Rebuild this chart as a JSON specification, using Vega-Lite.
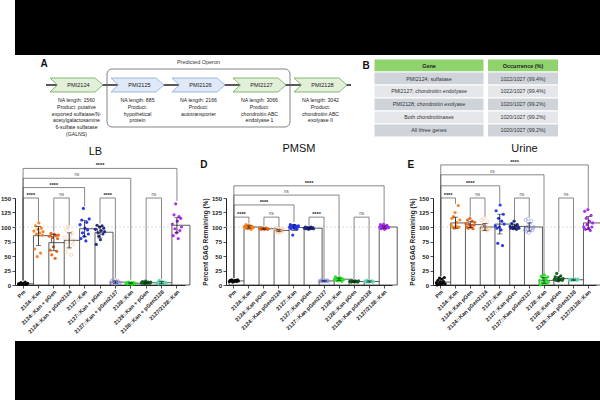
{
"$schema":"https://vega.github.io/schema/vega-lite/v6.json",
"background":"white",
"padding":0,
"config":{"font":"Liberation Sans","view":{"stroke":null},
"axis":{"domainColor":"#222","tickColor":"#222","labelColor":"#222","titleColor":"#222","grid":false,"domainWidth":1,"tickWidth":0.8,"labelFont":"Liberation Sans","titleFont":"Liberation Sans","labelOverlap":false},
"title":{"font":"Liberation Sans","fontWeight":"normal","color":"#111"}},
"datasets":{
"genes":[
{"i":1,"gene":"PMI2124","studied":"yes","desc":["NA length: 1560","Product: putative","exported sulfatase/N-","acetylgalactosamine","6-sulfate sulfatase","(GALNS)"]},
{"i":2,"gene":"PMI2125","studied":"no","desc":["NA length: 885","Product:","hypothetical","protein"]},
{"i":3,"gene":"PMI2126","studied":"no","desc":["NA length: 2166","Product:","autotransporter"]},
{"i":4,"gene":"PMI2127","studied":"yes","desc":["NA length: 3066","Product:","chondroitin ABC","endolyase 1"]},
{"i":5,"gene":"PMI2128","studied":"yes","desc":["NA length: 3042","Product:","chondroitin ABC","exolyase II"]}],
"table":[
{"row":0,"gene":"Gene","occ":"Occurrence (%)"},
{"row":1,"gene":"PMI2124; sulfatase","occ":"1022/1027 (99.4%)"},
{"row":2,"gene":"PMI2127; chondroitin endolyase","occ":"1022/1027 (99.4%)"},
{"row":3,"gene":"PMI2128; chondroitin exolyase","occ":"1020/1027 (99.2%)"},
{"row":4,"gene":"Both chondroitinases","occ":"1020/1027 (99.2%)"},
{"row":5,"gene":"All three genes","occ":"1020/1027 (99.2%)"}],
"brk":[
{"p":"LB","a":0,"b":1,"h":150,"la":8,"lb":110,"lab":"****"},
{"p":"LB","a":2,"b":3,"h":150,"la":92,"lb":103,"lab":"ns"},
{"p":"LB","a":0,"b":4,"h":168,"la":8,"lb":136,"lab":"****"},
{"p":"LB","a":5,"b":6,"h":150,"la":106,"lb":12,"lab":"****"},
{"p":"LB","a":0,"b":7,"h":184,"la":8,"lb":9,"lab":"ns"},
{"p":"LB","a":8,"b":9,"h":150,"la":10,"lb":10,"lab":"ns"},
{"p":"LB","a":0,"b":10,"h":201,"la":8,"lb":145,"lab":"****"},
{"p":"PMSM","a":0,"b":1,"h":117,"la":12,"lb":106,"lab":"****"},
{"p":"PMSM","a":2,"b":3,"h":117,"la":101,"lb":100,"lab":"ns"},
{"p":"PMSM","a":0,"b":4,"h":138,"la":12,"lb":108,"lab":"****"},
{"p":"PMSM","a":5,"b":6,"h":117,"la":102,"lb":11,"lab":"****"},
{"p":"PMSM","a":0,"b":7,"h":155,"la":12,"lb":16,"lab":"ns"},
{"p":"PMSM","a":8,"b":9,"h":117,"la":10,"lb":10,"lab":"ns"},
{"p":"PMSM","a":0,"b":10,"h":171,"la":12,"lb":108,"lab":"****"},
{"p":"Urine","a":0,"b":1,"h":150,"la":15,"lb":140,"lab":"****"},
{"p":"Urine","a":2,"b":3,"h":150,"la":118,"lb":118,"lab":"ns"},
{"p":"Urine","a":0,"b":4,"h":171,"la":15,"lb":141,"lab":"****"},
{"p":"Urine","a":5,"b":6,"h":150,"la":112,"lb":117,"lab":"ns"},
{"p":"Urine","a":0,"b":7,"h":190,"la":15,"lb":19,"lab":"ns"},
{"p":"Urine","a":8,"b":9,"h":150,"la":22,"lb":12,"lab":"ns"},
{"p":"Urine","a":0,"b":10,"h":207,"la":15,"lb":133,"lab":"****"}],
"lbBars":[
{"g":"Pm","m":2,"lo":1,"hi":3},{"g":"2124::Kan","m":85,"lo":68,"hi":101},{"g":"2124::Kan + pGen","m":73,"lo":59,"hi":87},{"g":"2124::Kan + pGen2124","m":77,"lo":64,"hi":90},{"g":"2127::Kan","m":97,"lo":83,"hi":111},{"g":"2127::Kan + pGen","m":91,"lo":81,"hi":101},{"g":"2127::Kan + pGen2127","m":5,"lo":3,"hi":7},{"g":"2128::Kan","m":3,"lo":2,"hi":4},{"g":"2128::Kan + pGen","m":4,"lo":3,"hi":5},{"g":"2128::Kan + pGen2128","m":4,"lo":2,"hi":6},{"g":"2127/2128::Kan","m":103,"lo":90,"hi":116}],
"pmBars":[
{"g":"Pm","m":7,"lo":6,"hi":8},{"g":"2124::Kan","m":100,"lo":98,"hi":102},{"g":"2124::Kan pGen","m":97,"lo":96,"hi":98},{"g":"2124::Kan pGen2124","m":94,"lo":92,"hi":96},{"g":"2127::Kan","m":99,"lo":94,"hi":104},{"g":"2127::Kan pGen","m":98,"lo":97,"hi":99},{"g":"2127::Kan pGen2127","m":7,"lo":6,"hi":8},{"g":"2128::Kan","m":10,"lo":8,"hi":12},{"g":"2128::Kan pGen","m":6,"lo":5,"hi":7},{"g":"2128::Kan pGen2128","m":6,"lo":5,"hi":7},{"g":"2127/2128::Kan","m":100,"lo":98,"hi":102}],
"urBars":[
{"g":"Pm","m":5,"lo":1,"hi":9},{"g":"2124::Kan","m":107,"lo":98,"hi":117},{"g":"2124::Kan pGen","m":104,"lo":99,"hi":109},{"g":"2124::Kan pGen2124","m":100,"lo":94,"hi":106},{"g":"2127::Kan","m":105,"lo":88,"hi":122},{"g":"2127::Kan pGen","m":101,"lo":97,"hi":105},{"g":"2127::Kan pGen2127","m":100,"lo":93,"hi":107},{"g":"2128::Kan","m":8,"lo":3,"hi":13},{"g":"2128::Kan pGen","m":11,"lo":7,"hi":15},{"g":"2128::Kan pGen2128","m":9,"lo":8,"hi":10},{"g":"2127/2128::Kan","m":107,"lo":96,"hi":118}],
"lbPts":[
{"g":"Pm","r":1,"v":2},{"g":"Pm","r":2,"v":1},{"g":"Pm","r":3,"v":3},{"g":"Pm","r":4,"v":4},{"g":"Pm","r":5,"v":2},{"g":"Pm","r":6,"v":1},{"g":"Pm","r":7,"v":3},{"g":"Pm","r":8,"v":2},{"g":"Pm","r":9,"v":5},{"g":"Pm","r":10,"v":1},{"g":"Pm","r":11,"v":2},{"g":"Pm","r":12,"v":3},
{"g":"2124::Kan","r":1,"v":93},{"g":"2124::Kan","r":2,"v":62},{"g":"2124::Kan","r":3,"v":102},{"g":"2124::Kan","r":4,"v":88},{"g":"2124::Kan","r":5,"v":49},{"g":"2124::Kan","r":6,"v":96},{"g":"2124::Kan","r":7,"v":107},{"g":"2124::Kan","r":8,"v":90},{"g":"2124::Kan","r":9,"v":55},{"g":"2124::Kan","r":10,"v":98},{"g":"2124::Kan","r":11,"v":86},{"g":"2124::Kan","r":12,"v":92},
{"g":"2124::Kan + pGen","r":1,"v":84},{"g":"2124::Kan + pGen","r":2,"v":60},{"g":"2124::Kan + pGen","r":3,"v":89},{"g":"2124::Kan + pGen","r":4,"v":52},{"g":"2124::Kan + pGen","r":5,"v":82},{"g":"2124::Kan + pGen","r":6,"v":66},{"g":"2124::Kan + pGen","r":7,"v":88},{"g":"2124::Kan + pGen","r":8,"v":46},{"g":"2124::Kan + pGen","r":9,"v":85},{"g":"2124::Kan + pGen","r":10,"v":58},{"g":"2124::Kan + pGen","r":11,"v":80},{"g":"2124::Kan + pGen","r":12,"v":86},
{"g":"2124::Kan + pGen2124","r":1,"v":82},{"g":"2124::Kan + pGen2124","r":2,"v":57},{"g":"2124::Kan + pGen2124","r":3,"v":95},{"g":"2124::Kan + pGen2124","r":4,"v":74},{"g":"2124::Kan + pGen2124","r":5,"v":100},{"g":"2124::Kan + pGen2124","r":6,"v":64},{"g":"2124::Kan + pGen2124","r":7,"v":79},{"g":"2124::Kan + pGen2124","r":8,"v":86},{"g":"2124::Kan + pGen2124","r":9,"v":52},{"g":"2124::Kan + pGen2124","r":10,"v":90},{"g":"2124::Kan + pGen2124","r":11,"v":70},{"g":"2124::Kan + pGen2124","r":12,"v":77},
{"g":"2127::Kan","r":1,"v":104},{"g":"2127::Kan","r":2,"v":80},{"g":"2127::Kan","r":3,"v":112},{"g":"2127::Kan","r":4,"v":90},{"g":"2127::Kan","r":5,"v":132},{"g":"2127::Kan","r":6,"v":84},{"g":"2127::Kan","r":7,"v":98},{"g":"2127::Kan","r":8,"v":76},{"g":"2127::Kan","r":9,"v":108},{"g":"2127::Kan","r":10,"v":95},{"g":"2127::Kan","r":11,"v":88},{"g":"2127::Kan","r":12,"v":114},
{"g":"2127::Kan + pGen","r":1,"v":96},{"g":"2127::Kan + pGen","r":2,"v":70},{"g":"2127::Kan + pGen","r":3,"v":103},{"g":"2127::Kan + pGen","r":4,"v":90},{"g":"2127::Kan + pGen","r":5,"v":84},{"g":"2127::Kan + pGen","r":6,"v":100},{"g":"2127::Kan + pGen","r":7,"v":78},{"g":"2127::Kan + pGen","r":8,"v":94},{"g":"2127::Kan + pGen","r":9,"v":102},{"g":"2127::Kan + pGen","r":10,"v":88},{"g":"2127::Kan + pGen","r":11,"v":98},{"g":"2127::Kan + pGen","r":12,"v":92},
{"g":"2127::Kan + pGen2127","r":1,"v":4},{"g":"2127::Kan + pGen2127","r":2,"v":7},{"g":"2127::Kan + pGen2127","r":3,"v":3},{"g":"2127::Kan + pGen2127","r":4,"v":9},{"g":"2127::Kan + pGen2127","r":5,"v":5},{"g":"2127::Kan + pGen2127","r":6,"v":2},{"g":"2127::Kan + pGen2127","r":7,"v":6},{"g":"2127::Kan + pGen2127","r":8,"v":4},{"g":"2127::Kan + pGen2127","r":9,"v":8},{"g":"2127::Kan + pGen2127","r":10,"v":5},{"g":"2127::Kan + pGen2127","r":11,"v":3},{"g":"2127::Kan + pGen2127","r":12,"v":4},
{"g":"2128::Kan","r":1,"v":3},{"g":"2128::Kan","r":2,"v":2},{"g":"2128::Kan","r":3,"v":4},{"g":"2128::Kan","r":4,"v":5},{"g":"2128::Kan","r":5,"v":3},{"g":"2128::Kan","r":6,"v":2},{"g":"2128::Kan","r":7,"v":4},{"g":"2128::Kan","r":8,"v":1},{"g":"2128::Kan","r":9,"v":3},{"g":"2128::Kan","r":10,"v":4},{"g":"2128::Kan","r":11,"v":2},{"g":"2128::Kan","r":12,"v":3},
{"g":"2128::Kan + pGen","r":1,"v":4},{"g":"2128::Kan + pGen","r":2,"v":6},{"g":"2128::Kan + pGen","r":3,"v":3},{"g":"2128::Kan + pGen","r":4,"v":5},{"g":"2128::Kan + pGen","r":5,"v":2},{"g":"2128::Kan + pGen","r":6,"v":7},{"g":"2128::Kan + pGen","r":7,"v":4},{"g":"2128::Kan + pGen","r":8,"v":3},{"g":"2128::Kan + pGen","r":9,"v":5},{"g":"2128::Kan + pGen","r":10,"v":4},{"g":"2128::Kan + pGen","r":11,"v":3},{"g":"2128::Kan + pGen","r":12,"v":5},
{"g":"2128::Kan + pGen2128","r":1,"v":3},{"g":"2128::Kan + pGen2128","r":2,"v":5},{"g":"2128::Kan + pGen2128","r":3,"v":2},{"g":"2128::Kan + pGen2128","r":4,"v":8},{"g":"2128::Kan + pGen2128","r":5,"v":4},{"g":"2128::Kan + pGen2128","r":6,"v":3},{"g":"2128::Kan + pGen2128","r":7,"v":6},{"g":"2128::Kan + pGen2128","r":8,"v":2},{"g":"2128::Kan + pGen2128","r":9,"v":4},{"g":"2128::Kan + pGen2128","r":10,"v":5},{"g":"2128::Kan + pGen2128","r":11,"v":3},{"g":"2128::Kan + pGen2128","r":12,"v":4},
{"g":"2127/2128::Kan","r":1,"v":105},{"g":"2127/2128::Kan","r":2,"v":85},{"g":"2127/2128::Kan","r":3,"v":121},{"g":"2127/2128::Kan","r":4,"v":97},{"g":"2127/2128::Kan","r":5,"v":140},{"g":"2127/2128::Kan","r":6,"v":90},{"g":"2127/2128::Kan","r":7,"v":110},{"g":"2127/2128::Kan","r":8,"v":80},{"g":"2127/2128::Kan","r":9,"v":118},{"g":"2127/2128::Kan","r":10,"v":94},{"g":"2127/2128::Kan","r":11,"v":115},{"g":"2127/2128::Kan","r":12,"v":100}],
"pmPts":[
{"g":"Pm","r":1,"v":6},{"g":"Pm","r":2,"v":8},{"g":"Pm","r":3,"v":7},{"g":"Pm","r":4,"v":9},{"g":"Pm","r":5,"v":5},{"g":"Pm","r":6,"v":7},{"g":"Pm","r":7,"v":6},{"g":"Pm","r":8,"v":8},{"g":"Pm","r":9,"v":7},{"g":"Pm","r":10,"v":6},{"g":"Pm","r":11,"v":9},{"g":"Pm","r":12,"v":7},
{"g":"2124::Kan","r":1,"v":101},{"g":"2124::Kan","r":2,"v":98},{"g":"2124::Kan","r":3,"v":104},{"g":"2124::Kan","r":4,"v":100},{"g":"2124::Kan","r":5,"v":97},{"g":"2124::Kan","r":6,"v":103},{"g":"2124::Kan","r":7,"v":99},{"g":"2124::Kan","r":8,"v":102},{"g":"2124::Kan","r":9,"v":96},{"g":"2124::Kan","r":10,"v":101},{"g":"2124::Kan","r":11,"v":100},{"g":"2124::Kan","r":12,"v":99},
{"g":"2124::Kan pGen","r":1,"v":97},{"g":"2124::Kan pGen","r":2,"v":98},{"g":"2124::Kan pGen","r":3,"v":96},{"g":"2124::Kan pGen","r":4,"v":97},{"g":"2124::Kan pGen","r":5,"v":98},{"g":"2124::Kan pGen","r":6,"v":97},{"g":"2124::Kan pGen","r":7,"v":96},{"g":"2124::Kan pGen","r":8,"v":97},{"g":"2124::Kan pGen","r":9,"v":98},{"g":"2124::Kan pGen","r":10,"v":97},{"g":"2124::Kan pGen","r":11,"v":96},{"g":"2124::Kan pGen","r":12,"v":97},
{"g":"2124::Kan pGen2124","r":1,"v":95},{"g":"2124::Kan pGen2124","r":2,"v":92},{"g":"2124::Kan pGen2124","r":3,"v":98},{"g":"2124::Kan pGen2124","r":4,"v":94},{"g":"2124::Kan pGen2124","r":5,"v":90},{"g":"2124::Kan pGen2124","r":6,"v":96},{"g":"2124::Kan pGen2124","r":7,"v":93},{"g":"2124::Kan pGen2124","r":8,"v":91},{"g":"2124::Kan pGen2124","r":9,"v":97},{"g":"2124::Kan pGen2124","r":10,"v":94},{"g":"2124::Kan pGen2124","r":11,"v":93},{"g":"2124::Kan pGen2124","r":12,"v":95},
{"g":"2127::Kan","r":1,"v":100},{"g":"2127::Kan","r":2,"v":104},{"g":"2127::Kan","r":3,"v":97},{"g":"2127::Kan","r":4,"v":102},{"g":"2127::Kan","r":5,"v":86},{"g":"2127::Kan","r":6,"v":99},{"g":"2127::Kan","r":7,"v":103},{"g":"2127::Kan","r":8,"v":98},{"g":"2127::Kan","r":9,"v":101},{"g":"2127::Kan","r":10,"v":96},{"g":"2127::Kan","r":11,"v":100},{"g":"2127::Kan","r":12,"v":102},
{"g":"2127::Kan pGen","r":1,"v":98},{"g":"2127::Kan pGen","r":2,"v":100},{"g":"2127::Kan pGen","r":3,"v":97},{"g":"2127::Kan pGen","r":4,"v":99},{"g":"2127::Kan pGen","r":5,"v":98},{"g":"2127::Kan pGen","r":6,"v":96},{"g":"2127::Kan pGen","r":7,"v":99},{"g":"2127::Kan pGen","r":8,"v":97},{"g":"2127::Kan pGen","r":9,"v":100},{"g":"2127::Kan pGen","r":10,"v":98},{"g":"2127::Kan pGen","r":11,"v":99},{"g":"2127::Kan pGen","r":12,"v":97},
{"g":"2127::Kan pGen2127","r":1,"v":7},{"g":"2127::Kan pGen2127","r":2,"v":6},{"g":"2127::Kan pGen2127","r":3,"v":8},{"g":"2127::Kan pGen2127","r":4,"v":7},{"g":"2127::Kan pGen2127","r":5,"v":6},{"g":"2127::Kan pGen2127","r":6,"v":7},{"g":"2127::Kan pGen2127","r":7,"v":8},{"g":"2127::Kan pGen2127","r":8,"v":6},{"g":"2127::Kan pGen2127","r":9,"v":7},{"g":"2127::Kan pGen2127","r":10,"v":8},{"g":"2127::Kan pGen2127","r":11,"v":7},{"g":"2127::Kan pGen2127","r":12,"v":6},
{"g":"2128::Kan","r":1,"v":10},{"g":"2128::Kan","r":2,"v":14},{"g":"2128::Kan","r":3,"v":8},{"g":"2128::Kan","r":4,"v":12},{"g":"2128::Kan","r":5,"v":7},{"g":"2128::Kan","r":6,"v":9},{"g":"2128::Kan","r":7,"v":13},{"g":"2128::Kan","r":8,"v":8},{"g":"2128::Kan","r":9,"v":11},{"g":"2128::Kan","r":10,"v":6},{"g":"2128::Kan","r":11,"v":10},{"g":"2128::Kan","r":12,"v":9},
{"g":"2128::Kan pGen","r":1,"v":6},{"g":"2128::Kan pGen","r":2,"v":7},{"g":"2128::Kan pGen","r":3,"v":5},{"g":"2128::Kan pGen","r":4,"v":6},{"g":"2128::Kan pGen","r":5,"v":7},{"g":"2128::Kan pGen","r":6,"v":6},{"g":"2128::Kan pGen","r":7,"v":5},{"g":"2128::Kan pGen","r":8,"v":7},{"g":"2128::Kan pGen","r":9,"v":6},{"g":"2128::Kan pGen","r":10,"v":6},{"g":"2128::Kan pGen","r":11,"v":5},{"g":"2128::Kan pGen","r":12,"v":7},
{"g":"2128::Kan pGen2128","r":1,"v":6},{"g":"2128::Kan pGen2128","r":2,"v":7},{"g":"2128::Kan pGen2128","r":3,"v":5},{"g":"2128::Kan pGen2128","r":4,"v":8},{"g":"2128::Kan pGen2128","r":5,"v":6},{"g":"2128::Kan pGen2128","r":6,"v":5},{"g":"2128::Kan pGen2128","r":7,"v":7},{"g":"2128::Kan pGen2128","r":8,"v":6},{"g":"2128::Kan pGen2128","r":9,"v":6},{"g":"2128::Kan pGen2128","r":10,"v":7},{"g":"2128::Kan pGen2128","r":11,"v":5},{"g":"2128::Kan pGen2128","r":12,"v":6},
{"g":"2127/2128::Kan","r":1,"v":100},{"g":"2127/2128::Kan","r":2,"v":104},{"g":"2127/2128::Kan","r":3,"v":97},{"g":"2127/2128::Kan","r":4,"v":102},{"g":"2127/2128::Kan","r":5,"v":99},{"g":"2127/2128::Kan","r":6,"v":105},{"g":"2127/2128::Kan","r":7,"v":96},{"g":"2127/2128::Kan","r":8,"v":101},{"g":"2127/2128::Kan","r":9,"v":98},{"g":"2127/2128::Kan","r":10,"v":103},{"g":"2127/2128::Kan","r":11,"v":100},{"g":"2127/2128::Kan","r":12,"v":99}],
"urPts":[
{"g":"Pm","r":1,"v":4},{"g":"Pm","r":2,"v":0},{"g":"Pm","r":3,"v":8},{"g":"Pm","r":4,"v":2},{"g":"Pm","r":5,"v":12},{"g":"Pm","r":6,"v":5},{"g":"Pm","r":7,"v":1},{"g":"Pm","r":8,"v":10},{"g":"Pm","r":9,"v":3},{"g":"Pm","r":10,"v":6},{"g":"Pm","r":11,"v":13},{"g":"Pm","r":12,"v":2},
{"g":"2124::Kan","r":1,"v":104},{"g":"2124::Kan","r":2,"v":115},{"g":"2124::Kan","r":3,"v":100},{"g":"2124::Kan","r":4,"v":118},{"g":"2124::Kan","r":5,"v":98},{"g":"2124::Kan","r":6,"v":125},{"g":"2124::Kan","r":7,"v":102},{"g":"2124::Kan","r":8,"v":108},{"g":"2124::Kan","r":9,"v":99},{"g":"2124::Kan","r":10,"v":137},{"g":"2124::Kan","r":11,"v":100},{"g":"2124::Kan","r":12,"v":112},
{"g":"2124::Kan pGen","r":1,"v":106},{"g":"2124::Kan pGen","r":2,"v":100},{"g":"2124::Kan pGen","r":3,"v":112},{"g":"2124::Kan pGen","r":4,"v":98},{"g":"2124::Kan pGen","r":5,"v":104},{"g":"2124::Kan pGen","r":6,"v":115},{"g":"2124::Kan pGen","r":7,"v":102},{"g":"2124::Kan pGen","r":8,"v":99},{"g":"2124::Kan pGen","r":9,"v":110},{"g":"2124::Kan pGen","r":10,"v":97},{"g":"2124::Kan pGen","r":11,"v":103},{"g":"2124::Kan pGen","r":12,"v":108},
{"g":"2124::Kan pGen2124","r":1,"v":98},{"g":"2124::Kan pGen2124","r":2,"v":112},{"g":"2124::Kan pGen2124","r":3,"v":95},{"g":"2124::Kan pGen2124","r":4,"v":104},{"g":"2124::Kan pGen2124","r":5,"v":97},{"g":"2124::Kan pGen2124","r":6,"v":115},{"g":"2124::Kan pGen2124","r":7,"v":96},{"g":"2124::Kan pGen2124","r":8,"v":100},{"g":"2124::Kan pGen2124","r":9,"v":94},{"g":"2124::Kan pGen2124","r":10,"v":108},{"g":"2124::Kan pGen2124","r":11,"v":99},{"g":"2124::Kan pGen2124","r":12,"v":97},
{"g":"2127::Kan","r":1,"v":102},{"g":"2127::Kan","r":2,"v":128},{"g":"2127::Kan","r":3,"v":98},{"g":"2127::Kan","r":4,"v":72},{"g":"2127::Kan","r":5,"v":115},{"g":"2127::Kan","r":6,"v":100},{"g":"2127::Kan","r":7,"v":138},{"g":"2127::Kan","r":8,"v":95},{"g":"2127::Kan","r":9,"v":110},{"g":"2127::Kan","r":10,"v":68},{"g":"2127::Kan","r":11,"v":122},{"g":"2127::Kan","r":12,"v":105},
{"g":"2127::Kan pGen","r":1,"v":101},{"g":"2127::Kan pGen","r":2,"v":98},{"g":"2127::Kan pGen","r":3,"v":106},{"g":"2127::Kan pGen","r":4,"v":100},{"g":"2127::Kan pGen","r":5,"v":97},{"g":"2127::Kan pGen","r":6,"v":110},{"g":"2127::Kan pGen","r":7,"v":99},{"g":"2127::Kan pGen","r":8,"v":102},{"g":"2127::Kan pGen","r":9,"v":96},{"g":"2127::Kan pGen","r":10,"v":104},{"g":"2127::Kan pGen","r":11,"v":100},{"g":"2127::Kan pGen","r":12,"v":98},
{"g":"2127::Kan pGen2127","r":1,"v":95},{"g":"2127::Kan pGen2127","r":2,"v":112},{"g":"2127::Kan pGen2127","r":3,"v":92},{"g":"2127::Kan pGen2127","r":4,"v":100},{"g":"2127::Kan pGen2127","r":5,"v":114},{"g":"2127::Kan pGen2127","r":6,"v":90},{"g":"2127::Kan pGen2127","r":7,"v":105},{"g":"2127::Kan pGen2127","r":8,"v":97},{"g":"2127::Kan pGen2127","r":9,"v":110},{"g":"2127::Kan pGen2127","r":10,"v":94},{"g":"2127::Kan pGen2127","r":11,"v":98},{"g":"2127::Kan pGen2127","r":12,"v":100},
{"g":"2128::Kan","r":1,"v":8},{"g":"2128::Kan","r":2,"v":0},{"g":"2128::Kan","r":3,"v":15},{"g":"2128::Kan","r":4,"v":4},{"g":"2128::Kan","r":5,"v":12},{"g":"2128::Kan","r":6,"v":2},{"g":"2128::Kan","r":7,"v":17},{"g":"2128::Kan","r":8,"v":6},{"g":"2128::Kan","r":9,"v":10},{"g":"2128::Kan","r":10,"v":3},{"g":"2128::Kan","r":11,"v":14},{"g":"2128::Kan","r":12,"v":5},
{"g":"2128::Kan pGen","r":1,"v":10},{"g":"2128::Kan pGen","r":2,"v":14},{"g":"2128::Kan pGen","r":3,"v":8},{"g":"2128::Kan pGen","r":4,"v":20},{"g":"2128::Kan pGen","r":5,"v":11},{"g":"2128::Kan pGen","r":6,"v":7},{"g":"2128::Kan pGen","r":7,"v":12},{"g":"2128::Kan pGen","r":8,"v":9},{"g":"2128::Kan pGen","r":9,"v":16},{"g":"2128::Kan pGen","r":10,"v":10},{"g":"2128::Kan pGen","r":11,"v":8},{"g":"2128::Kan pGen","r":12,"v":11},
{"g":"2128::Kan pGen2128","r":1,"v":9},{"g":"2128::Kan pGen2128","r":2,"v":10},{"g":"2128::Kan pGen2128","r":3,"v":8},{"g":"2128::Kan pGen2128","r":4,"v":9},{"g":"2128::Kan pGen2128","r":5,"v":10},{"g":"2128::Kan pGen2128","r":6,"v":9},{"g":"2128::Kan pGen2128","r":7,"v":8},{"g":"2128::Kan pGen2128","r":8,"v":9},{"g":"2128::Kan pGen2128","r":9,"v":10},{"g":"2128::Kan pGen2128","r":10,"v":9},{"g":"2128::Kan pGen2128","r":11,"v":8},{"g":"2128::Kan pGen2128","r":12,"v":10},
{"g":"2127/2128::Kan","r":1,"v":100},{"g":"2127/2128::Kan","r":2,"v":127},{"g":"2127/2128::Kan","r":3,"v":96},{"g":"2127/2128::Kan","r":4,"v":115},{"g":"2127/2128::Kan","r":5,"v":104},{"g":"2127/2128::Kan","r":6,"v":130},{"g":"2127/2128::Kan","r":7,"v":98},{"g":"2127/2128::Kan","r":8,"v":110},{"g":"2127/2128::Kan","r":9,"v":94},{"g":"2127/2128::Kan","r":10,"v":120},{"g":"2127/2128::Kan","r":11,"v":100},{"g":"2127/2128::Kan","r":12,"v":107}]
},
"spacing":0,
"vconcat":[
{"width":600,"height":55,"view":{"fill":"black","stroke":null},"data":{"values":[{}]},"mark":"text","encoding":{"text":{"value":""}}},
{"spacing":6,"vconcat":[
{"spacing":0,"vconcat":[
{"spacing":10,"resolve":{"scale":{"fill":"independent"}},"hconcat":[
{"width":15,"height":10,"data":{"values":[{}]},"mark":"text","encoding":{"text":{"value":""}}},
{"width":305,"height":86,"data":{"name":"genes"},
"encoding":{"y":{"datum":0,"type":"quantitative","scale":{"domain":[-1.966,1],"nice":false,"zero":false},"axis":null}},
"layer":[
{"data":{"values":[{}]},"mark":{"type":"rule","color":"#222","strokeWidth":1.6},"encoding":{"x":{"datum":0.5,"type":"quantitative","scale":{"domain":[0.5,5.5],"nice":false,"zero":false},"axis":null},"x2":{"datum":5.5}}},
{"data":{"values":[{}]},"mark":{"type":"rect","cornerRadius":5,"fill":"white","fillOpacity":0,"stroke":"#666","strokeWidth":0.8,"yOffset":-16,"y2Offset":42},"encoding":{"x":{"datum":1.5,"type":"quantitative","axis":null},"x2":{"datum":4.5},"y2":{"datum":0}}},
{"transform":[{"filter":"datum.studied == 'yes'"}],"mark":{"type":"point","shape":"M-1,-0.264L0.7,-0.264L1,0L0.7,0.264L-1,0.264L-0.72,0Z","size":2809,"filled":true,"fill":"#e2f0d9","stroke":"#6aa84f","strokeWidth":0.8,"opacity":1},"encoding":{"x":{"field":"i","type":"quantitative","axis":null}}},
{"transform":[{"filter":"datum.studied == 'no'"}],"mark":{"type":"point","shape":"M-1,-0.264L0.7,-0.264L1,0L0.7,0.264L-1,0.264L-0.72,0Z","size":2809,"filled":true,"fill":"#dfe9f8","stroke":"#8eaadb","strokeWidth":0.8,"opacity":1},"encoding":{"x":{"field":"i","type":"quantitative","axis":null}}},
{"mark":{"type":"text","fontSize":5.6,"dx":2,"color":"#222"},"encoding":{"x":{"field":"i","type":"quantitative","axis":null},"text":{"field":"gene"}}},
{"mark":{"type":"text","fontSize":5.2,"baseline":"top","dy":13,"lineHeight":6.8,"color":"#222"},"encoding":{"x":{"field":"i","type":"quantitative","axis":null},"text":{"field":"desc"}}},
{"data":{"values":[{}]},"mark":{"type":"text","text":"Predicted Operon","fontSize":5.5,"dy":-23,"color":"#333"},"encoding":{"x":{"datum":3,"type":"quantitative","axis":null}}},
{"data":{"values":[{}]},"mark":{"type":"text","text":"A","fontSize":10,"fontWeight":"bold","dx":-2,"dy":-21,"color":"#111"},"encoding":{"x":{"datum":0.5,"type":"quantitative","axis":null}}}
]},
{"spacing":1.5,"hconcat":[
{"width":110,"height":86,"data":{"name":"table"},"layer":[
{"mark":{"type":"rect","stroke":"white","strokeWidth":1},"encoding":{"y":{"field":"row","type":"ordinal","scale":{"paddingInner":0,"paddingOuter":0.3077,"align":0.375},"axis":null},"fill":{"field":"row","type":"ordinal","scale":{"domain":[0,1,2,3,4,5],"range":["#8fd36c","#cfd3da","#e5e7eb","#cfd3da","#e5e7eb","#cfd3da"]},"legend":null}}},
{"transform":[{"filter":"datum.row == 0"}],"mark":{"type":"text","fontSize":5.5,"fontWeight":"bold","color":"#222"},"encoding":{"y":{"field":"row","type":"ordinal"},"text":{"field":"gene"}}},
{"transform":[{"filter":"datum.row > 0"}],"mark":{"type":"text","fontSize":5.3,"color":"#333"},"encoding":{"y":{"field":"row","type":"ordinal"},"text":{"field":"gene"}}},
{"data":{"values":[{}]},"mark":{"type":"text","text":"B","fontSize":10,"fontWeight":"bold","dx":-63,"color":"#111"},"encoding":{"y":{"datum":0,"type":"ordinal"}}}
]},
{"width":71,"height":86,"data":{"name":"table"},"layer":[
{"mark":{"type":"rect","stroke":"white","strokeWidth":1},"encoding":{"y":{"field":"row","type":"ordinal","scale":{"paddingInner":0,"paddingOuter":0.3077,"align":0.375},"axis":null},"fill":{"field":"row","type":"ordinal","scale":{"domain":[0,1,2,3,4,5],"range":["#8fd36c","#cfd3da","#e5e7eb","#cfd3da","#e5e7eb","#cfd3da"]},"legend":null}}},
{"transform":[{"filter":"datum.row == 0"}],"mark":{"type":"text","fontSize":5.5,"fontWeight":"bold","color":"#222"},"encoding":{"y":{"field":"row","type":"ordinal"},"text":{"field":"occ"}}},
{"transform":[{"filter":"datum.row > 0"}],"mark":{"type":"text","fontSize":5.3,"color":"#333"},"encoding":{"y":{"field":"row","type":"ordinal"},"text":{"field":"occ"}}}
]}
]}
]},
{"spacing":9,"resolve":{"scale":{"color":"independent","xOffset":"independent"}},"hconcat":[
{"width":170,"height":87,"title":{"text":"LB","fontSize":11,"offset":6,"frame":"bounds"},"resolve":{"scale":{"x":"independent"}},
"layer":[
{"layer":[
{"data":{"values":[{}]},"mark":{"type":"rule","color":"#cccccc","strokeDash":[2,2],"strokeWidth":0.7},"encoding":{"y":{"datum":100,"type":"quantitative"}}},
{"data":{"name":"lbBars"},"mark":{"type":"bar","fill":"white","stroke":"#333","strokeWidth":0.8},"encoding":{
"x":{"field":"g","type":"nominal","scale":{"domain":["Pm","2124::Kan","2124::Kan + pGen","2124::Kan + pGen2124","2127::Kan","2127::Kan + pGen","2127::Kan + pGen2127","2128::Kan","2128::Kan + pGen","2128::Kan + pGen2128","2127/2128::Kan"],"paddingInner":0.35,"paddingOuter":0.2},"axis":{"title":null,"labelAngle":-45,"labelFontSize":5.5,"labelFontWeight":"bold","labelPadding":1,"tickSize":3,"labelLimit":200}},
"y":{"field":"m","type":"quantitative","scale":{"domain":[0,150],"nice":false},"axis":{"title":null,"values":[0,25,50,75,100,125,150],"tickCount":7,"labelOverlap":false,"tickSize":3,"labelFontSize":6,"labelFontWeight":"bold","labelPadding":1.5}}}},
{"data":{"name":"lbPts"},"transform":[{"filter":{"not":{"field":"g","oneOf":["2124::Kan + pGen2124","2127::Kan + pGen2127"]}}}],"mark":{"type":"point","filled":true,"size":10,"opacity":0.95},"encoding":{"x":{"field":"g","type":"nominal"},"xOffset":{"field":"r","type":"ordinal"},"y":{"field":"v","type":"quantitative"},"color":{"field":"g","type":"nominal","scale":{"domain":["Pm","2124::Kan","2124::Kan + pGen","2124::Kan + pGen2124","2127::Kan","2127::Kan + pGen","2127::Kan + pGen2127","2128::Kan","2128::Kan + pGen","2128::Kan + pGen2128","2127/2128::Kan"],"range":["#000000","#f57f20","#e4631c","#f2b27d","#1c2ff2","#1b237f","#7f84e6","#22e622","#0e5c1c","#5fd6b0","#a524ee"]},"legend":null}}},
{"data":{"name":"lbPts"},"transform":[{"filter":{"field":"g","oneOf":["2124::Kan + pGen2124","2127::Kan + pGen2127"]}}],"mark":{"type":"point","filled":false,"size":10,"strokeWidth":0.7},"encoding":{"x":{"field":"g","type":"nominal"},"xOffset":{"field":"r","type":"ordinal"},"y":{"field":"v","type":"quantitative"},"color":{"field":"g","type":"nominal","legend":null}}},
{"data":{"name":"lbBars"},"mark":{"type":"rule","color":"#111","strokeWidth":0.8},"encoding":{"x":{"field":"g","type":"nominal"},"y":{"field":"lo","type":"quantitative"},"y2":{"field":"hi"}}},
{"data":{"name":"lbBars"},"mark":{"type":"tick","color":"#111","thickness":0.8,"size":5},"encoding":{"x":{"field":"g","type":"nominal"},"y":{"field":"lo","type":"quantitative"}}},
{"data":{"name":"lbBars"},"mark":{"type":"tick","color":"#111","thickness":0.8,"size":5},"encoding":{"x":{"field":"g","type":"nominal"},"y":{"field":"hi","type":"quantitative"}}}
]},
{"data":{"name":"brk"},"transform":[{"filter":"datum.p == 'LB'"},{"calculate":"(datum.a + datum.b) / 2","as":"mid"}],
"layer":[
{"mark":{"type":"rule","color":"#555","strokeWidth":0.7},"encoding":{"x":{"field":"a","type":"quantitative","scale":{"domain":[-0.525,10.525],"nice":false,"zero":false},"axis":null},"x2":{"field":"b"},"y":{"field":"h","type":"quantitative","scale":{"domain":[0,150],"nice":false},"axis":{"title":null,"values":[0,25,50,75,100,125,150],"tickCount":7,"labelOverlap":false,"tickSize":3,"labelFontSize":6,"labelFontWeight":"bold","labelPadding":1.5}}}},
{"mark":{"type":"rule","color":"#555","strokeWidth":0.7},"encoding":{"x":{"field":"a","type":"quantitative"},"y":{"field":"la","type":"quantitative"},"y2":{"field":"h"}}},
{"mark":{"type":"rule","color":"#555","strokeWidth":0.7},"encoding":{"x":{"field":"b","type":"quantitative"},"y":{"field":"lb","type":"quantitative"},"y2":{"field":"h"}}},
{"transform":[{"filter":"datum.lab == '****'"}],"mark":{"type":"text","fontSize":5.5,"fontWeight":"bold","baseline":"bottom","dy":0,"color":"#222"},"encoding":{"x":{"field":"mid","type":"quantitative"},"y":{"field":"h","type":"quantitative"},"text":{"field":"lab"}}},
{"transform":[{"filter":"datum.lab == 'ns'"}],"mark":{"type":"text","fontSize":4.5,"baseline":"bottom","dy":-1,"color":"#555"},"encoding":{"x":{"field":"mid","type":"quantitative"},"y":{"field":"h","type":"quantitative"},"text":{"field":"lab"}}}
]}
]},
{"width":166,"height":87,"title":{"text":"PMSM","fontSize":11,"offset":6,"frame":"bounds"},"resolve":{"scale":{"x":"independent"}},
"layer":[
{"layer":[
{"data":{"values":[{}]},"mark":{"type":"rule","color":"#cccccc","strokeDash":[2,2],"strokeWidth":0.7},"encoding":{"y":{"datum":100,"type":"quantitative"}}},
{"data":{"name":"pmBars"},"mark":{"type":"bar","fill":"white","stroke":"#333","strokeWidth":0.8},"encoding":{
"x":{"field":"g","type":"nominal","scale":{"domain":["Pm","2124::Kan","2124::Kan pGen","2124::Kan pGen2124","2127::Kan","2127::Kan pGen","2127::Kan pGen2127","2128::Kan","2128::Kan pGen","2128::Kan pGen2128","2127/2128::Kan"],"paddingInner":0.35,"paddingOuter":0.2},"axis":{"title":null,"labelAngle":-45,"labelFontSize":5.5,"labelFontWeight":"bold","labelPadding":1,"tickSize":3,"labelLimit":200}},
"y":{"field":"m","type":"quantitative","scale":{"domain":[0,150],"nice":false},"axis":{"title":"Percent GAG Remaining (%)","values":[0,25,50,75,100,125,150],"tickCount":7,"labelOverlap":false,"tickSize":3,"labelFontSize":6,"labelFontWeight":"bold","labelPadding":1.5,"titleFontSize":6.5,"titleFontWeight":"bold","titlePadding":3}}}},
{"data":{"name":"pmPts"},"transform":[{"filter":{"not":{"field":"g","oneOf":["2124::Kan pGen2124","2127::Kan pGen2127"]}}}],"mark":{"type":"point","filled":true,"size":10,"opacity":0.95},"encoding":{"x":{"field":"g","type":"nominal"},"xOffset":{"field":"r","type":"ordinal"},"y":{"field":"v","type":"quantitative"},"color":{"field":"g","type":"nominal","scale":{"domain":["Pm","2124::Kan","2124::Kan pGen","2124::Kan pGen2124","2127::Kan","2127::Kan pGen","2127::Kan pGen2127","2128::Kan","2128::Kan pGen","2128::Kan pGen2128","2127/2128::Kan"],"range":["#000000","#f57f20","#e4631c","#f2b27d","#1c2ff2","#1b237f","#7f84e6","#22e622","#0e5c1c","#5fd6b0","#a524ee"]},"legend":null}}},
{"data":{"name":"pmPts"},"transform":[{"filter":{"field":"g","oneOf":["2124::Kan pGen2124","2127::Kan pGen2127"]}}],"mark":{"type":"point","filled":false,"size":10,"strokeWidth":0.7},"encoding":{"x":{"field":"g","type":"nominal"},"xOffset":{"field":"r","type":"ordinal"},"y":{"field":"v","type":"quantitative"},"color":{"field":"g","type":"nominal","legend":null}}},
{"data":{"name":"pmBars"},"mark":{"type":"rule","color":"#111","strokeWidth":0.8},"encoding":{"x":{"field":"g","type":"nominal"},"y":{"field":"lo","type":"quantitative"},"y2":{"field":"hi"}}},
{"data":{"name":"pmBars"},"mark":{"type":"tick","color":"#111","thickness":0.8,"size":5},"encoding":{"x":{"field":"g","type":"nominal"},"y":{"field":"lo","type":"quantitative"}}},
{"data":{"name":"pmBars"},"mark":{"type":"tick","color":"#111","thickness":0.8,"size":5},"encoding":{"x":{"field":"g","type":"nominal"},"y":{"field":"hi","type":"quantitative"}}},
{"data":{"values":[{}]},"mark":{"type":"text","text":"D","fontSize":10,"fontWeight":"bold","dx":-30,"color":"#111"},"encoding":{"x":{"datum":"Pm","type":"nominal"},"y":{"datum":207,"type":"quantitative"}}}
]},
{"data":{"name":"brk"},"transform":[{"filter":"datum.p == 'PMSM'"},{"calculate":"(datum.a + datum.b) / 2","as":"mid"}],
"layer":[
{"mark":{"type":"rule","color":"#555","strokeWidth":0.7},"encoding":{"x":{"field":"a","type":"quantitative","scale":{"domain":[-0.525,10.525],"nice":false,"zero":false},"axis":null},"x2":{"field":"b"},"y":{"field":"h","type":"quantitative","scale":{"domain":[0,150],"nice":false},"axis":{"title":"Percent GAG Remaining (%)","values":[0,25,50,75,100,125,150],"tickCount":7,"labelOverlap":false,"tickSize":3,"labelFontSize":6,"labelFontWeight":"bold","labelPadding":1.5,"titleFontSize":6.5,"titleFontWeight":"bold","titlePadding":3}}}},
{"mark":{"type":"rule","color":"#555","strokeWidth":0.7},"encoding":{"x":{"field":"a","type":"quantitative"},"y":{"field":"la","type":"quantitative"},"y2":{"field":"h"}}},
{"mark":{"type":"rule","color":"#555","strokeWidth":0.7},"encoding":{"x":{"field":"b","type":"quantitative"},"y":{"field":"lb","type":"quantitative"},"y2":{"field":"h"}}},
{"transform":[{"filter":"datum.lab == '****'"}],"mark":{"type":"text","fontSize":5.5,"fontWeight":"bold","baseline":"bottom","dy":0,"color":"#222"},"encoding":{"x":{"field":"mid","type":"quantitative"},"y":{"field":"h","type":"quantitative"},"text":{"field":"lab"}}},
{"transform":[{"filter":"datum.lab == 'ns'"}],"mark":{"type":"text","fontSize":4.5,"baseline":"bottom","dy":-1,"color":"#555"},"encoding":{"x":{"field":"mid","type":"quantitative"},"y":{"field":"h","type":"quantitative"},"text":{"field":"lab"}}}
]}
]},
{"width":163,"height":87,"title":{"text":"Urine","fontSize":11,"offset":6,"dx":10},"resolve":{"scale":{"x":"independent"}},
"layer":[
{"layer":[
{"data":{"values":[{}]},"mark":{"type":"rule","color":"#cccccc","strokeDash":[2,2],"strokeWidth":0.7},"encoding":{"y":{"datum":100,"type":"quantitative"}}},
{"data":{"name":"urBars"},"mark":{"type":"bar","fill":"white","stroke":"#333","strokeWidth":0.8},"encoding":{
"x":{"field":"g","type":"nominal","scale":{"domain":["Pm","2124::Kan","2124::Kan pGen","2124::Kan pGen2124","2127::Kan","2127::Kan pGen","2127::Kan pGen2127","2128::Kan","2128::Kan pGen","2128::Kan pGen2128","2127/2128::Kan"],"paddingInner":0.35,"paddingOuter":0.2},"axis":{"title":null,"labelAngle":-45,"labelFontSize":5.5,"labelFontWeight":"bold","labelPadding":1,"tickSize":3,"labelLimit":200}},
"y":{"field":"m","type":"quantitative","scale":{"domain":[0,150],"nice":false},"axis":{"title":"Percent GAG Remaining (%)","values":[0,25,50,75,100,125,150],"tickCount":7,"labelOverlap":false,"tickSize":3,"labelFontSize":6,"labelFontWeight":"bold","labelPadding":1.5,"titleFontSize":6.5,"titleFontWeight":"bold","titlePadding":3}}}},
{"data":{"name":"urPts"},"transform":[{"filter":{"not":{"field":"g","oneOf":["2124::Kan pGen2124","2127::Kan pGen2127"]}}}],"mark":{"type":"point","filled":true,"size":10,"opacity":0.95},"encoding":{"x":{"field":"g","type":"nominal"},"xOffset":{"field":"r","type":"ordinal"},"y":{"field":"v","type":"quantitative"},"color":{"field":"g","type":"nominal","scale":{"domain":["Pm","2124::Kan","2124::Kan pGen","2124::Kan pGen2124","2127::Kan","2127::Kan pGen","2127::Kan pGen2127","2128::Kan","2128::Kan pGen","2128::Kan pGen2128","2127/2128::Kan"],"range":["#000000","#f57f20","#e4631c","#f2b27d","#1c2ff2","#1b237f","#7f84e6","#22e622","#0e5c1c","#5fd6b0","#a524ee"]},"legend":null}}},
{"data":{"name":"urPts"},"transform":[{"filter":{"field":"g","oneOf":["2124::Kan pGen2124","2127::Kan pGen2127"]}}],"mark":{"type":"point","filled":false,"size":10,"strokeWidth":0.7},"encoding":{"x":{"field":"g","type":"nominal"},"xOffset":{"field":"r","type":"ordinal"},"y":{"field":"v","type":"quantitative"},"color":{"field":"g","type":"nominal","legend":null}}},
{"data":{"name":"urBars"},"mark":{"type":"rule","color":"#111","strokeWidth":0.8},"encoding":{"x":{"field":"g","type":"nominal"},"y":{"field":"lo","type":"quantitative"},"y2":{"field":"hi"}}},
{"data":{"name":"urBars"},"mark":{"type":"tick","color":"#111","thickness":0.8,"size":5},"encoding":{"x":{"field":"g","type":"nominal"},"y":{"field":"lo","type":"quantitative"}}},
{"data":{"name":"urBars"},"mark":{"type":"tick","color":"#111","thickness":0.8,"size":5},"encoding":{"x":{"field":"g","type":"nominal"},"y":{"field":"hi","type":"quantitative"}}},
{"data":{"values":[{}]},"mark":{"type":"text","text":"E","fontSize":10,"fontWeight":"bold","dx":-30,"color":"#111"},"encoding":{"x":{"datum":"Pm","type":"nominal"},"y":{"datum":207,"type":"quantitative"}}}
]},
{"data":{"name":"brk"},"transform":[{"filter":"datum.p == 'Urine'"},{"calculate":"(datum.a + datum.b) / 2","as":"mid"}],
"layer":[
{"mark":{"type":"rule","color":"#555","strokeWidth":0.7},"encoding":{"x":{"field":"a","type":"quantitative","scale":{"domain":[-0.525,10.525],"nice":false,"zero":false},"axis":null},"x2":{"field":"b"},"y":{"field":"h","type":"quantitative","scale":{"domain":[0,150],"nice":false},"axis":{"title":"Percent GAG Remaining (%)","values":[0,25,50,75,100,125,150],"tickCount":7,"labelOverlap":false,"tickSize":3,"labelFontSize":6,"labelFontWeight":"bold","labelPadding":1.5,"titleFontSize":6.5,"titleFontWeight":"bold","titlePadding":3}}}},
{"mark":{"type":"rule","color":"#555","strokeWidth":0.7},"encoding":{"x":{"field":"a","type":"quantitative"},"y":{"field":"la","type":"quantitative"},"y2":{"field":"h"}}},
{"mark":{"type":"rule","color":"#555","strokeWidth":0.7},"encoding":{"x":{"field":"b","type":"quantitative"},"y":{"field":"lb","type":"quantitative"},"y2":{"field":"h"}}},
{"transform":[{"filter":"datum.lab == '****'"}],"mark":{"type":"text","fontSize":5.5,"fontWeight":"bold","baseline":"bottom","dy":0,"color":"#222"},"encoding":{"x":{"field":"mid","type":"quantitative"},"y":{"field":"h","type":"quantitative"},"text":{"field":"lab"}}},
{"transform":[{"filter":"datum.lab == 'ns'"}],"mark":{"type":"text","fontSize":4.5,"baseline":"bottom","dy":-1,"color":"#555"},"encoding":{"x":{"field":"mid","type":"quantitative"},"y":{"field":"h","type":"quantitative"},"text":{"field":"lab"}}}
]}
]}
]}
]},
{"width":600,"height":60,"view":{"fill":"black","stroke":null},"data":{"values":[{}]},"mark":"text","encoding":{"text":{"value":""}}}
]}
]
}
